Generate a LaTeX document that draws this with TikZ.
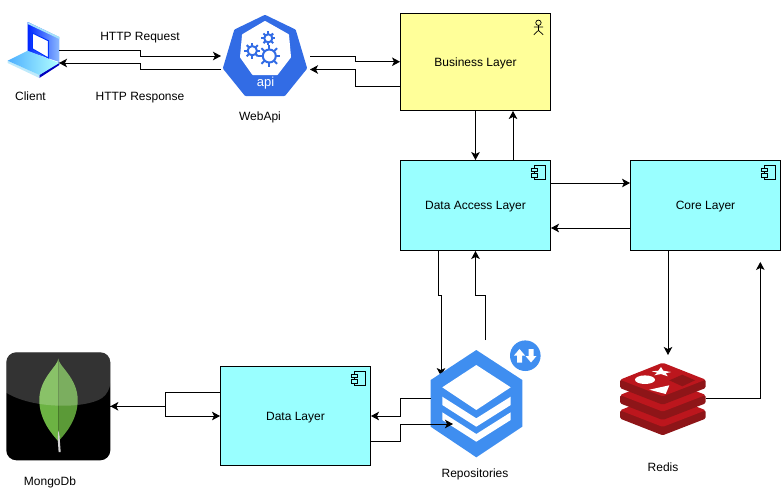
\documentclass[tikz,border=0pt]{standalone}
\usepackage{amsmath}
\usepackage{fontspec}
\setmainfont{Liberation Sans}
\usetikzlibrary{arrows.meta}
\definecolor{bizyellow}{HTML}{FFFF99}
\definecolor{layercyan}{HTML}{99FFFF}
\definecolor{apiblue}{HTML}{326CE5}
\definecolor{repoblue}{HTML}{3F8EF0}
\definecolor{redisred}{HTML}{BC161D}
\definecolor{redisdark}{HTML}{8E1518}
\definecolor{leaflight}{HTML}{6CB343}
\definecolor{leafdark}{HTML}{5B9A37}
\tikzset{
  >={Stealth[inset=2pt,length=8pt,width=8.5pt]},
  layerbox/.style={rectangle,draw,line width=0.9pt,minimum width=150pt,inner sep=0pt,text height=8.6pt,text depth=0pt,font=\fontsize{12}{14}\selectfont},
  iconbox/.style={rectangle,inner sep=0pt,outer sep=0pt},
  caption/.style={font=\fontsize{12}{14}\selectfont,inner sep=0pt,text height=8.6pt,text depth=0pt},
  conn/.style={draw,line width=1pt,->},
  comppart/.style={draw,line width=0.8pt},
  compicon/.pic={
    \path[comppart,fill=layercyan] (-16.5,5.2) rectangle (-5.8,19.8);
    \path[comppart,fill=layercyan] (-19.2,8.5) rectangle (-13.5,11.8);
    \path[comppart,fill=layercyan] (-19.2,13.8) rectangle (-13.5,17.2);
  },
  actoricon/.pic={
    \path[draw,line width=0.7pt] (-12.5,10.2) circle (2.7);
    \path[draw,line width=0.7pt] (-12.5,12.9) -- (-12.5,17.8) (-17.2,14.5) -- (-7.8,14.5)
      (-17.2,22.2) -- (-12.5,17.8) -- (-7.8,22.2);
  }
}
\newcommand{\drawgear}[3]{%
  \foreach \ang in {0,45,...,315}
    \path[draw,apiblue,line width=2pt] (#1,#2) ++(\ang:#3*0.65) -- ++(\ang:#3*0.4);
  \path[draw,apiblue,line width=2pt] (#1,#2) circle (#3*0.62);
}
\begin{document}
\begin{tikzpicture}[x=1pt,y=-1pt]
  \useasboundingbox (0,0) rectangle (781,496);

  % layers
  \foreach \pos/\name/\hgt/\col/\txt in {{(475.5,61.75)/business/97.5/bizyellow/Business Layer}, {(475.5,205.5)/dal/90/layercyan/Data Access Layer}, {(705.5,205.5)/core/90/layercyan/Core Layer}, {(295.5,416)/data/99/layercyan/Data Layer}}
  \node[layerbox,fill=\col,minimum height=\hgt pt] (\name) at \pos {\txt};
  \pic at (business.north east) {actoricon};
  \foreach \name in {dal,core,data}
  \pic at (\name.north east) {compicon};

  % icon places
  \foreach \pos/\name/\wid/\hgt in {{(33.5,49)/client/51/58}, {(265.5,56)/webapi/89/82}, {(476.5,403.7)/repos/91.6/107.3}, {(662.85,398.35)/redis/85.7/71.3}, {(58.3,406.3)/mongo/104/108}}
  \node[iconbox,minimum width=\wid pt,minimum height=\hgt pt] (\name) at \pos {};

  % goes under the repositories icon
  \path[conn] ([xshift=-37.5]dal.south) -- ++(0,45) -- ++(3,0) -- ([xshift=10.3,yshift=-26]repos.north west);

  % client
  \path[left color=blue!85!cyan,right color=cyan!40!blue!45!white] (27.7,22) -- (59.3,37) -- (59.3,62) -- (27.7,51.3) -- cycle;
  \path[fill=cyan!35!white] (27.7,22) -- (59.3,37) -- (59.3,39) -- (27.7,24) -- cycle;
  \path[draw=blue!80!cyan,line width=1pt,fill=white] (32.3,33) -- (48.3,40.7) -- (48.3,58) -- (32.3,48.7) -- cycle;
  \path[fill=blue!75!black] (39.3,75) -- (59.3,62) -- (59.3,65) -- (39.3,78) -- cycle;
  \path[fill=cyan!25!white] (7.7,60.7) -- (39.3,75) -- (39.3,78) -- (7.7,63) -- cycle;
  \path[left color=cyan!55!blue!70!white,right color=cyan!30!white] (7.7,60.7) -- (27.7,50.7) -- (59.3,63) -- (39.3,75) -- cycle;

  % webapi
  \path[fill=apiblue,draw=apiblue,line width=4pt,line join=round] (265,17) -- (294,31) -- (305,68) -- (284,94) -- (246,94) -- (225,68) -- (236,31) -- cycle;
  \path[fill=white,draw=white,line width=2pt,line join=round] (265,22) -- (288,35) -- (290,57) -- (277,74) -- (253,74) -- (241,57) -- (243,35) -- cycle;
  \drawgear{269.3}{56}{10.5}
  \drawgear{252.3}{50.7}{7.5}
  \drawgear{268.3}{38.3}{6.5}
  \node[caption,text=white,font=\fontsize{13}{15}\selectfont] (apitext) at (265.5,82) {api};

  % repositories
  \path[fill=repoblue] (476.3,350) -- (522.3,380) -- (522.3,426.7) -- (476.3,457.3) -- (430.7,426.7) -- (430.7,380) -- cycle;
  \path[fill=white] (476.3,365) -- (510.7,387.3) -- (476.3,410) -- (442.3,387.3) -- cycle;
  \path[fill=white] (442.3,396.7) -- (476.3,418.3) -- (510.7,396.7) -- (510.7,405) -- (476.3,426.7) -- (442.3,405) -- cycle;
  \path[fill=white] (442.3,412.3) -- (476.3,434) -- (510.7,412.3) -- (510.7,420) -- (476.3,441.7) -- (442.3,420) -- cycle;
  \path[fill=repoblue] (525.3,355.7) circle (15.3);
  \path[fill=white] (519.5,349) -- (525,355.5) -- (522,355.5) -- (522,362.5) -- (517,362.5) -- (517,355.5) -- (514,355.5) -- cycle;
  \path[fill=white] (531,362.5) -- (536.5,356) -- (533.5,356) -- (533.5,349) -- (528.5,349) -- (528.5,356) -- (525.5,356) -- cycle;

  % redis
  \foreach \off in {30.6,15.3,0} {
    \path[fill=redisdark,rounded corners=1.5pt] (620,379.7+\off) -- (620,388+\off) -- (662.7,404.7+\off) -- (705.7,388+\off) -- (705.7,379.7+\off) -- cycle;
    \path[fill=redisred,rounded corners=1.5pt] (662.7,362.7+\off) -- (705.7,379.7+\off) -- (662.7,396.3+\off) -- (620,379.7+\off) -- cycle;
  }
  \path[fill=white] (661,367) -- (663.3,370.7) -- (671,372) -- (665.7,373.3) -- (667.7,376.3) -- (661,374) -- (654.3,375.3) -- (657.3,372.7) -- (651.7,371.3) -- (658.3,370.7) -- cycle;
  \path[fill=white] (645,379.7) ellipse (10 and 4.3);
  \path[fill=white] (649.3,389.7) -- (669.3,385.3) -- (665.7,394) -- cycle;
  \path[fill=redisdark] (669.3,380.3) -- (682.3,374.7) -- (695,380.3) -- (682.3,386.3) -- cycle;

  % mongodb
  \path[fill=black,rounded corners=10pt] (6.3,352.3) rectangle (110.3,460.3);
  \path[fill=leaflight] (58.3,358.7) .. controls (58,366) and (39.3,378) .. (39.3,400) .. controls (39.3,420) and (52,434) .. (58.3,441.3) -- cycle;
  \path[fill=leafdark] (58.3,358.7) .. controls (58.6,366) and (77.7,378) .. (77.7,400) .. controls (77.7,420) and (65,434) .. (58.3,441.3) -- cycle;
  \path[fill=gray!35] (58.3,430.3) -- (59.5,436) -- (60.7,452) -- (58.6,452) -- (57.8,440) -- cycle;
  \path[fill=white,fill opacity=0.2,rounded corners=10pt] (6.3,392.7) -- (6.3,352.3) -- (110.3,352.3) -- (110.3,392.7) [sharp corners] .. controls (85,409) and (32,409) .. (6.3,392.7) -- cycle;

  % captions
  \foreach \pos/\name/\txt in {{(30.5,96)/clientlabel/Client}, {(140,36)/reqlabel/HTTP Request}, {(140,96)/resplabel/HTTP Response}, {(260,116)/apilabel/WebApi}, {(475,473)/repolabel/Repositories}, {(663,467)/redislabel/Redis}, {(50,481)/mongolabel/MongoDb}}
  \node[caption] (\name) at \pos {\txt};

  % connectors
  \path[conn] ([yshift=-1]client.east) -- ++(81,0) |- (webapi.west);
  \path[conn] ([yshift=-13.5]webapi.west) -- ++(-81,0) |- ([yshift=-14]client.east);
  \path[conn] (webapi.east) -- ++(45,0) |- (business.west);
  \path[conn] ([yshift=-24.5]business.west) -- ++(-45,0) |- ([yshift=-13.5]webapi.east);
  \path[conn] (business.south) -- (dal.north);
  \path[conn] ([xshift=37.5]dal.north) -- ([xshift=37.5]business.south);
  \path[conn] ([yshift=22.5]dal.east) -- ([yshift=22.5]core.west);
  \path[conn] ([yshift=-22.5]core.west) -- ([yshift=-22.5]dal.east);
  \path[conn] ([xshift=9,yshift=10]repos.north) -- ++(0,-45) -| (dal.south);
  \path[conn] ([xshift=-37.5]core.south) -- ([xshift=5.15,yshift=7.7]redis.north);
  \path[conn] (redis.east) -| ([xshift=54.8,yshift=-11]core.south);
  \path[conn] ([yshift=24]data.west) -- ++(-55,0) |- (mongo.east);
  \path[conn] (mongo.east) -- ++(55,0) |- (data.west);
  \path[conn] ([yshift=5]repos.west) -- ++(-30,0) |- (data.east);
  \path[conn] ([yshift=-25]data.east) -- ++(30,0) |- ([xshift=-23.5,yshift=-20.3]repos.center);
\end{tikzpicture}
\end{document}
